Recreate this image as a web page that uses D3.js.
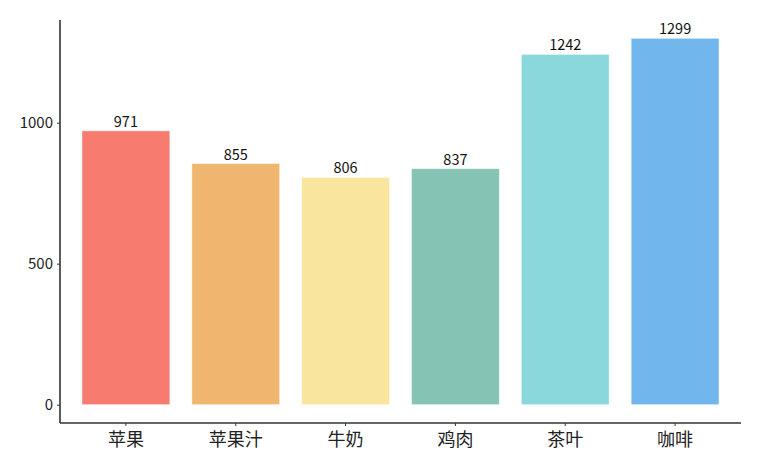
<!DOCTYPE html>
<html><head><meta charset="utf-8">
<script src="https://cdn.jsdelivr.net/npm/d3@7/dist/d3.min.js"></script>
<style>body{margin:0;background:#fff}</style>
</head><body>
<svg id="c" width="769" height="468"></svg>
<script>
const categories = ["苹果","苹果汁","牛奶","鸡肉","茶叶","咖啡"];
const values = [971, 855, 806, 837, 1242, 1299];
const colors = ["#F87B6F","#F0B66F","#FAE59E","#85C3B5","#8AD8DB","#71B6EC"];
const yTicks = [0, 500, 1000];

(function(){
const svg = d3.select("#c");
const font = "'Noto Sans CJK SC', 'Noto Sans', sans-serif";
const pLeft = 60, pRight = 741, pTop = 20, pBottom = 423;
const maxV = d3.max(values);
const y = d3.scaleLinear().domain([-0.05*maxV, maxV*1.05]).range([pBottom, pTop]);
const x = d3.scaleBand().domain(categories).range([pLeft, pRight]).paddingInner(0.2).paddingOuter(0.2);
const bw = x.bandwidth();
const cx = d => x(d) + bw/2;

svg.selectAll("rect.bar").data(categories).enter().append("rect")
  .attr("x", d => x(d))
  .attr("width", bw)
  .attr("y", (d,i) => y(values[i]))
  .attr("height", (d,i) => y(0) - y(values[i]))
  .attr("fill", (d,i) => colors[i])
  .attr("stroke", "#fff").attr("stroke-opacity", 0.5).attr("stroke-width", 1);

svg.selectAll("text.val").data(categories).enter().append("text")
  .attr("x", d => cx(d))
  .attr("y", (d,i) => y(values[i]) - 4)
  .attr("text-anchor", "middle")
  .attr("font-family", font).attr("font-size", 14.5).attr("fill", "#111")
  .text((d,i) => values[i]);

// y axis
const yAxis = d3.axisLeft(y).tickValues(yTicks).tickSize(3).tickPadding(4).tickFormat(d3.format("d"));
const gy = svg.append("g").attr("transform", `translate(${pLeft},0)`).call(yAxis);
gy.select(".domain").remove();
gy.append("line").attr("x1",0).attr("x2",0).attr("y1",pTop).attr("y2",pBottom).attr("stroke","#333").attr("stroke-width",1.6);
gy.selectAll(".tick line").attr("stroke","#333");
gy.selectAll(".tick text").attr("font-family", font).attr("font-size", 15).attr("fill","#222");

// x axis
const gx = svg.append("g").attr("transform", `translate(0,${pBottom})`);
const xAxis = d3.axisBottom(x).tickSize(3).tickPadding(7);
gx.call(xAxis);
gx.select(".domain").remove();
gx.append("line").attr("x1",pLeft).attr("x2",pRight).attr("y1",0).attr("y2",0).attr("stroke","#333").attr("stroke-width",1.6);
gx.selectAll(".tick line").attr("stroke","#333");
gx.selectAll(".tick text").attr("font-family", font).attr("font-size", 18).attr("fill","#222");
})();
</script>
</body></html>
